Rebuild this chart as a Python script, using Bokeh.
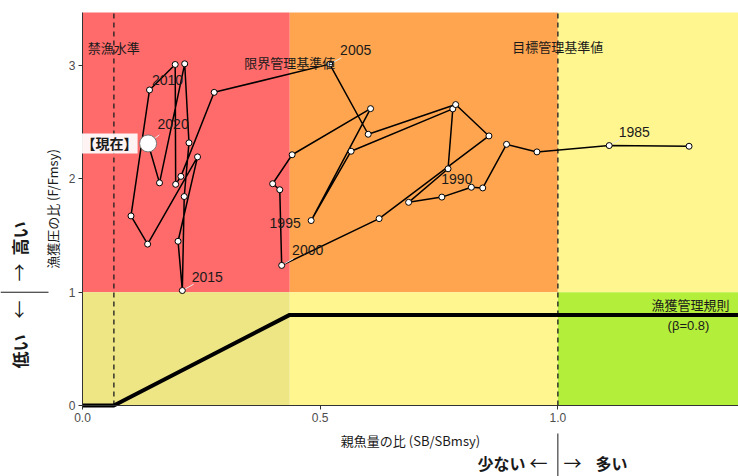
import numpy as np
from bokeh.plotting import figure
from bokeh.models import Label, Range1d, FixedTicker, NumeralTickFormatter, ColumnDataSource
from bokeh.embed import file_html
from bokeh.resources import INLINE
from bokeh.core.properties import value

# ---------------- data ----------------
years = list(range(1984, 2021))
sb_ratio = [1.276, 1.108, 0.956, 0.892, 0.842, 0.818, 0.756, 0.686, 0.769, 0.779,
            0.565, 0.481, 0.606, 0.441, 0.400, 0.415, 0.419, 0.624, 0.855, 0.785,
            0.601, 0.520, 0.277, 0.207, 0.196, 0.195, 0.141, 0.102, 0.137, 0.242,
            0.201, 0.210, 0.214, 0.224, 0.215, 0.162, 0.138]
f_ratio = [2.289, 2.295, 2.239, 2.306, 1.921, 1.927, 1.840, 1.794, 2.090, 2.619,
           2.245, 1.633, 2.621, 2.214, 1.958, 1.905, 1.237, 1.650, 2.380, 2.657,
           2.395, 3.014, 2.765, 2.023, 1.953, 3.011, 2.786, 1.674, 1.425, 2.195,
           1.450, 1.015, 1.845, 2.319, 3.017, 1.966, 2.314]
label_years = [1985, 1990, 1995, 2000, 2005, 2010, 2015, 2020]
leader_years = [1985, 2000, 2005, 2015, 2020]
current_year = 2020

ban_ratio = 0.066      # 禁漁水準
limit_ratio = 0.436    # 限界管理基準値
target_ratio = 1.0     # 目標管理基準値
beta = 0.8
x_max = 1.38
y_max = 3.47
x_ticks = [0.0, 0.5, 1.0]
y_ticks = [0, 1, 2, 3]

# ---------------- styling / layout ----------------
W, H = 738, 476
PL, PT, PB = 82, 12, 71          # panel position inside the canvas
sx = (W - PL) / x_max            # px per unit (x)
sy = (H - PT - PB) / y_max       # px per unit (y)

JP = "Noto Sans CJK JP"
NUM = "Liberation Sans"
INK = "#1a1a1a"

p = figure(width=W, height=H,
           x_range=Range1d(-PL / sx, (W - PL) / sx),
           y_range=Range1d(-PB / sy, (H - PB) / sy),
           output_backend="svg", toolbar_location=None, min_border=0)
p.title.visible = False
p.grid.visible = False
p.outline_line_color = None
p.background_fill_color = "white"
p.border_fill_color = "white"

# background zones
zones = dict(
    left=[0, limit_ratio, target_ratio, 0, limit_ratio, target_ratio],
    right=[limit_ratio, target_ratio, x_max, limit_ratio, target_ratio, x_max],
    bottom=[1, 1, 1, 0, 0, 0],
    top=[y_max, y_max, y_max, 1, 1, 1],
    color=["#FF6A6A", "#FFA54F", "#FFF68F", "#EEE685", "#FFF68F", "#B3EE3A"],
)
p.quad(left="left", right="right", bottom="bottom", top="top", color="color",
       source=ColumnDataSource(zones), line_color=None)

# reference dashed lines
p.segment(x0=[ban_ratio, target_ratio], y0=[0, 0], x1=[ban_ratio, target_ratio], y1=[y_max, y_max],
          line_color="#222222", line_width=1.6, line_dash="5 4", line_alpha=0.85)

# harvest control rule
hcr_x = [0, ban_ratio, limit_ratio, x_max]
hcr_y = [0, 0, beta, beta]
p.line(hcr_x, hcr_y, line_color="black", line_width=4)

# trajectory
p.line(sb_ratio, f_ratio, line_color="black", line_width=1.5)

# year labels (pixel offsets from the point) and leader lines
offsets = {1985: (25, -14), 1990: (15, -18), 1995: (-26, 2), 2000: (26, -15),
           2005: (26, -14), 2010: (18, -10), 2015: (25, -14), 2020: (25, -19)}
lx0, ly0, lx1, ly1 = [], [], [], []
for yr in leader_years:
    i = years.index(yr)
    dx, dy = offsets[yr]
    lx0.append(sb_ratio[i]); ly0.append(f_ratio[i])
    lx1.append(sb_ratio[i] + 0.45 * dx / sx); ly1.append(f_ratio[i] - 0.45 * dy / sy)
p.segment(x0=lx0, y0=ly0, x1=lx1, y1=ly1, line_color="#E6E6E6", line_width=1)

ci = years.index(current_year)
p.scatter(sb_ratio[:ci], f_ratio[:ci], size=6, fill_color="white", line_color="black", line_width=1)
p.scatter([sb_ratio[ci]], [f_ratio[ci]], size=17, fill_color="white", line_color="#777777", line_width=1)

tx, ty, tt = [], [], []
for yr in label_years:
    i = years.index(yr)
    dx, dy = offsets[yr]
    tx.append(sb_ratio[i] + dx / sx); ty.append(f_ratio[i] - dy / sy); tt.append(str(yr))
p.text(x=tx, y=ty, text=tt, text_font=value(NUM), text_font_size="14px",
       text_color=INK, text_align="center", text_baseline="middle")


def lab(x, y, text, size="13px", align="center", font=JP, style="normal", angle=0, **kw):
    p.add_layout(Label(x=x, y=y, text=text, text_font=font, text_font_size=size,
                       text_align=align, text_baseline="middle", text_font_style=style,
                       text_color=INK, angle=angle, **kw))


def px_x(px):
    return (px - PL) / sx


def px_y(py):
    return (H - PB - py) / sy


# zone texts
lab(ban_ratio, px_y(47), "禁漁水準")
lab(limit_ratio, px_y(62), "限界管理基準値")
lab(target_ratio, px_y(46), "目標管理基準値")
lab(px_x(729), px_y(304), "漁獲管理規則", align="right")
lab(px_x(688), px_y(325), "(β=0.8)", font=NUM, size="13px")

# current label
lab(sb_ratio[ci] - 38.5 / sx, f_ratio[ci], "【現在】", size="14px", style="bold",
    background_fill_color="white", background_fill_alpha=0.92)

# axes, pinned to the panel's edges
p.xaxis.fixed_location = 0
p.yaxis.fixed_location = 0
p.xaxis.bounds = (0, x_max)
p.yaxis.bounds = (0, y_max)
p.xaxis.ticker = FixedTicker(ticks=x_ticks)
p.yaxis.ticker = FixedTicker(ticks=y_ticks)
p.xaxis.formatter = NumeralTickFormatter(format="0.0")
p.xaxis.axis_label = "親魚量の比 (SB/SBmsy)"
p.yaxis.axis_label = "漁獲圧の比 (F/Fmsy)"
for ax in (p.xaxis[0], p.yaxis[0]):
    ax.axis_line_color = "#333333"
    ax.major_tick_line_color = "#333333"
    ax.major_tick_out = 4
    ax.major_tick_in = 0
    ax.minor_tick_line_color = None
    ax.major_label_text_font = NUM
    ax.major_label_text_font_size = "12px"
    ax.major_label_text_color = "#4D4D4D"
    ax.major_label_standoff = 3
    ax.axis_label_text_font = JP
    ax.axis_label_text_font_size = "13px"
    ax.axis_label_text_font_style = "normal"
    ax.axis_label_text_color = INK
p.xaxis.axis_label_standoff = 6
p.yaxis.axis_label_standoff = 4

# outside annotations (left: F high/low, bottom: SB low/high)
rot = np.pi / 2
lab(px_x(19), px_y(238), "高い", size="17px", style="bold", angle=rot)
lab(px_x(17), px_y(272), "→", size="18px", angle=rot)
lab(px_x(17), px_y(309), "←", size="18px", angle=rot)
lab(px_x(19), px_y(351), "低い", size="17px", style="bold", angle=rot)
p.segment(x0=[px_x(0)], y0=[1], x1=[px_x(48)], y1=[1], line_color=INK, line_width=1)

lab(px_x(501), px_y(462), "少ない", size="16px", style="bold")
lab(px_x(538), px_y(461), "←", size="18px")
lab(px_x(572), px_y(461), "→", size="18px")
lab(px_x(611), px_y(462), "多い", size="16px", style="bold")
p.segment(x0=[target_ratio], y0=[px_y(433)], x1=[target_ratio], y1=[px_y(476)], line_color=INK, line_width=1)

open("out.html", "w").write(file_html(p, INLINE))
